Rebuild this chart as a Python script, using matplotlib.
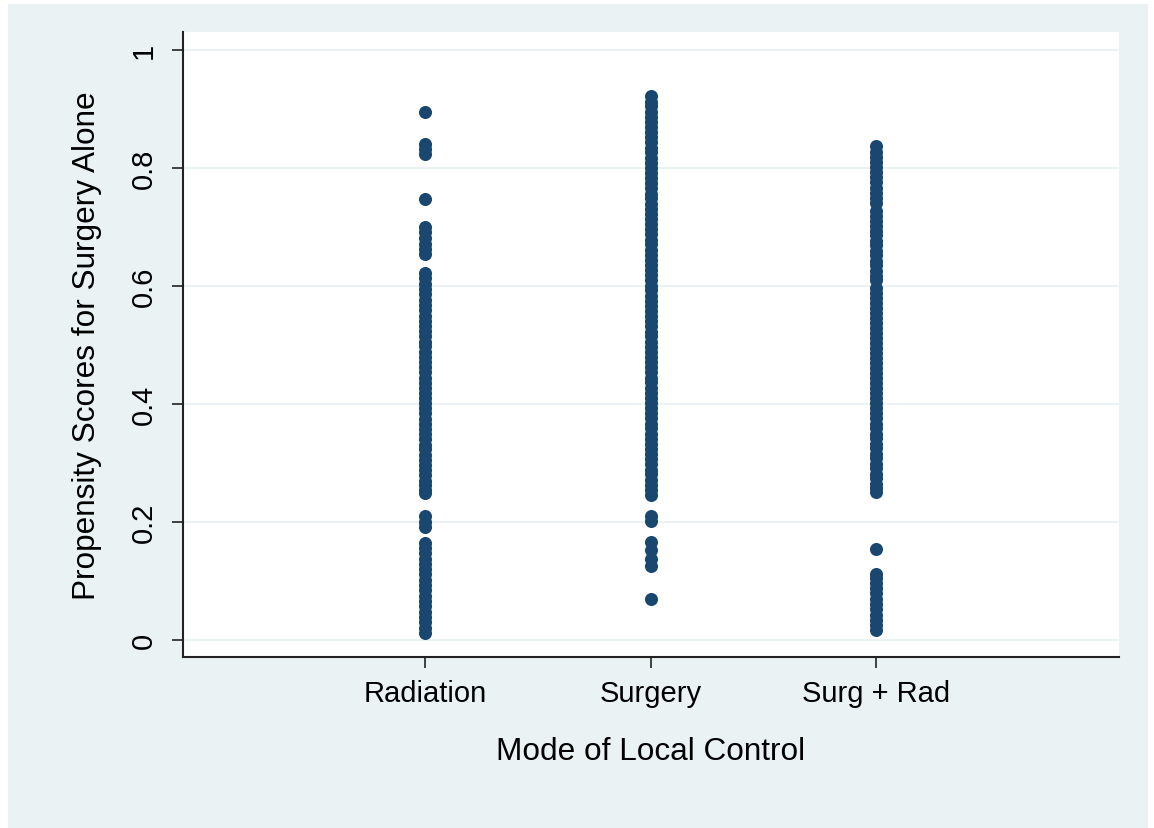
import matplotlib
matplotlib.use("Agg")
import matplotlib.pyplot as plt
import matplotlib.patches as patches

# DATA

categories = ["Radiation", "Surgery", "Surg + Rad"]

radiation = [0.895, 0.841, 0.832, 0.824, 0.747,
             0.701, 0.692, 0.682, 0.672, 0.663, 0.654,
             0.622, 0.613, 0.604, 0.595, 0.586, 0.577, 0.568, 0.559, 0.550, 0.541,
             0.533, 0.524, 0.515, 0.506, 0.498, 0.489, 0.480, 0.471, 0.463, 0.454,
             0.445, 0.436, 0.428, 0.419, 0.410, 0.401, 0.393, 0.384, 0.375, 0.366,
             0.358, 0.349, 0.340, 0.331, 0.323, 0.314, 0.305, 0.296, 0.288, 0.279,
             0.270, 0.262, 0.255, 0.249,
             0.210, 0.200, 0.191,
             0.164, 0.156, 0.147, 0.138, 0.129, 0.120, 0.111, 0.102, 0.093, 0.084,
             0.075, 0.066, 0.057, 0.048, 0.039, 0.030, 0.021, 0.012]

surgery = [0.922, 0.913, 0.905, 0.896, 0.887, 0.879, 0.870, 0.861, 0.853, 0.844,
           0.835, 0.827, 0.818, 0.809, 0.801, 0.792, 0.783, 0.775, 0.766, 0.757,
           0.749, 0.740, 0.731, 0.723, 0.714, 0.705, 0.697, 0.688, 0.679, 0.671,
           0.662, 0.653, 0.645, 0.636, 0.627, 0.619, 0.610, 0.601, 0.593, 0.584,
           0.575, 0.567, 0.558, 0.549, 0.541, 0.532, 0.523, 0.515, 0.506, 0.497,
           0.489, 0.480, 0.471, 0.463, 0.454, 0.445, 0.437, 0.428, 0.419, 0.411,
           0.402, 0.393, 0.385, 0.376, 0.367, 0.359, 0.350, 0.341, 0.333, 0.324,
           0.315, 0.307, 0.298, 0.289, 0.281, 0.272, 0.263, 0.254, 0.246,
           0.210, 0.201,
           0.166, 0.152, 0.138, 0.126,
           0.069]

surg_rad = [0.837, 0.828, 0.819, 0.811, 0.802, 0.793, 0.785, 0.776, 0.767, 0.758,
            0.750, 0.741, 0.727, 0.719, 0.711, 0.702, 0.694, 0.686, 0.677, 0.669,
            0.660, 0.652, 0.643, 0.635, 0.626, 0.618, 0.610, 0.596, 0.588, 0.580,
            0.571, 0.563, 0.554, 0.546, 0.537, 0.529, 0.520, 0.512, 0.503, 0.495,
            0.486, 0.478, 0.469, 0.461, 0.452, 0.444, 0.435, 0.427, 0.418, 0.410,
            0.401, 0.393, 0.384, 0.376, 0.367, 0.359, 0.350, 0.342, 0.333, 0.325,
            0.316, 0.308, 0.299, 0.291, 0.282, 0.274, 0.265, 0.257, 0.251,
            0.154,
            0.112, 0.105, 0.097, 0.088, 0.079, 0.070, 0.061, 0.052, 0.043, 0.034,
            0.025, 0.016]

y_ticks = [0, 0.2, 0.4, 0.6, 0.8, 1]
y_tick_labels = ["0", "0.2", "0.4", "0.6", "0.8", "1"]

# PLOT SETTINGS

fig_w_px, fig_h_px = 1154, 829
bg_color = "#EAF2F3"
marker_color = "#1A476F"
plt.rcParams["font.family"] = ["Liberation Sans", "DejaVu Sans"]

fig = plt.figure(figsize=(fig_w_px / 100, fig_h_px / 100), dpi=100, facecolor="white")

# light stata-style background panel, kept behind the axes
fig.patches.append(patches.Rectangle(
    (8 / fig_w_px, 0), (1148 - 8) / fig_w_px, (829 - 5) / fig_h_px,
    transform=fig.transFigure, facecolor=bg_color, edgecolor="none", zorder=-10))

ax = fig.add_axes([183 / fig_w_px, (829 - 658) / fig_h_px,
                   (1119 - 183) / fig_w_px, (658 - 33) / fig_h_px])
ax.set_zorder(1)
ax.set_facecolor("white")

for y in y_ticks:
    ax.axhline(y, color=bg_color, linewidth=1.4, zorder=1)

groups = [radiation, surgery, surg_rad]
for i, values in enumerate(groups):
    ax.plot([i + 1] * len(values), values, "o", color=marker_color,
            markersize=9.4, markeredgewidth=0, zorder=3)

ax.set_xlim(-0.073, 4.077)
ax.set_ylim(-0.029, 1.031)

ax.set_xticks([1, 2, 3])
ax.set_xticklabels(categories, fontsize=21)
ax.set_yticks(y_ticks)
ax.set_yticklabels(y_tick_labels, fontsize=21, rotation=90, va="center")

ax.tick_params(axis="x", length=8, width=1.2, pad=8, color="#222222")
ax.tick_params(axis="y", length=8, width=1.2, pad=10, color="#222222")

for side in ["top", "right"]:
    ax.spines[side].set_visible(False)
for side in ["left", "bottom"]:
    ax.spines[side].set_linewidth(1.5)
    ax.spines[side].set_color("#222222")

ax.set_xlabel("Mode of Local Control", fontsize=22.7, labelpad=21)
ax.set_ylabel("Propensity Scores for Surgery Alone", fontsize=22.7, labelpad=20)

fig.savefig("out.png", dpi=100, facecolor=fig.get_facecolor())
